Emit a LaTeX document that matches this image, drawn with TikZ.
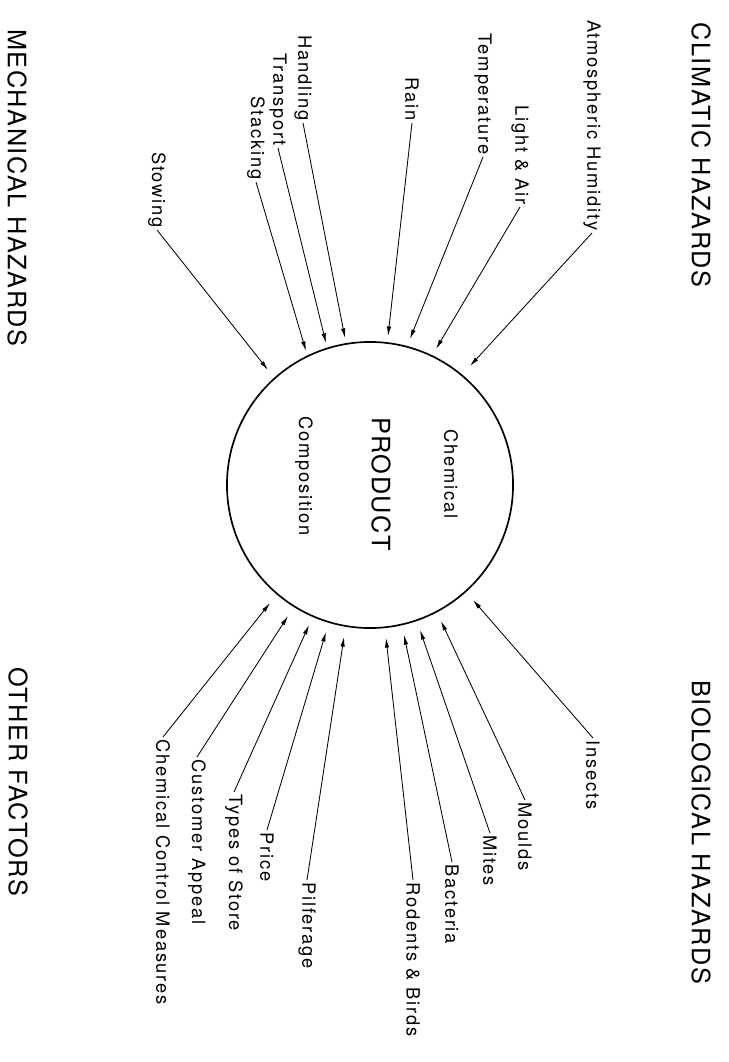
\documentclass[tikz,border=0pt]{standalone}
\usepackage{fontspec}
\usetikzlibrary{arrows.meta}
\newfontfamily\hdfont[LetterSpace=6]{TeX Gyre Heros}
\newfontfamily\lbfont[LetterSpace=10]{TeX Gyre Heros}
\begin{document}
\begin{tikzpicture}[x=0.025cm,y=-0.025cm,
  hd/.style={rotate=-90, inner sep=1pt, font=\hdfont\fontsize{18}{21}\selectfont},
  lbl/.style={rotate=-90, inner sep=1.5pt, font=\lbfont\fontsize{13}{15}\selectfont},
  arr/.style={-{Latex[length=2.4mm,width=1.1mm]}, line width=0.6pt}]
\useasboundingbox (0,0) rectangle (728,1062);

% central product circle
\node[draw, circle, line width=1.2pt, minimum size=7.15cm, inner sep=0pt] (prod) at (370,485) {};
\node[hd]  (ptxt) at (381,484) {PRODUCT};
\node[lbl] (chem) at (451,474) {Chemical};
\node[lbl] (comp) at (304,476) {Composition};

% group headings
\node[hd] (hclim) at (701,155) {CLIMATIC HAZARDS};
\node[hd] (hbio)  at (701,832) {BIOLOGICAL HAZARDS};
\node[hd] (hmech) at (17,188)  {MECHANICAL HAZARDS};
\node[hd] (hoth)  at (18,782)  {OTHER FACTORS};

% arrow tips just outside the circle
\coordinate (t-atm)  at (470,366);
\coordinate (t-lig)  at (436,349);
\coordinate (t-tem)  at (410,339);
\coordinate (t-rai)  at (388,336);
\coordinate (t-han)  at (345,338);
\coordinate (t-tra)  at (326,343);
\coordinate (t-sta)  at (306,351);
\coordinate (t-sto)  at (268,370);
\coordinate (t-cc)   at (270,603);
\coordinate (t-cus)  at (288,616);
\coordinate (t-typ)  at (309,625);
\coordinate (t-pri)  at (326,632);
\coordinate (t-pil)  at (344,637);
\coordinate (t-rod)  at (386,638);
\coordinate (t-bac)  at (404,635);
\coordinate (t-mit)  at (420,630);
\coordinate (t-mou)  at (441,621);
\coordinate (t-ins)  at (473,600);

% climatic hazards
\node[lbl, anchor=east] (atm) at (592,233) {Atmospheric Humidity};
\node[lbl, anchor=east] (lig) at (520,207) {Light \& Air};
\node[lbl, anchor=east] (tem) at (483,157) {Temperature};
\node[lbl, anchor=east] (rai) at (412,123) {Rain};

% mechanical hazards
\node[lbl, anchor=east] (han) at (303,123) {Handling};
\node[lbl, anchor=east] (tra) at (278,148) {Transport};
\node[lbl, anchor=east] (sta) at (256,182) {Stacking};
\node[lbl, anchor=east] (sto) at (157,230) {Stowing};

% other factors
\node[lbl, anchor=west] (cc)  at (163,737) {Chemical Control Measures};
\node[lbl, anchor=west] (cus) at (197,757) {Customer Appeal};
\node[lbl, anchor=west] (typ) at (234,792) {Types of Store};
\node[lbl, anchor=west] (pri) at (267,830) {Price};
\node[lbl, anchor=west] (pil) at (307,880) {Pilferage};

% biological hazards
\node[lbl, anchor=west] (rod) at (413,880) {Rodents \& Birds};
\node[lbl, anchor=west] (bac) at (452,862) {Bacteria};
\node[lbl, anchor=west] (mit) at (490,833) {Mites};
\node[lbl, anchor=west] (mou) at (525,800) {Moulds};
\node[lbl, anchor=west] (ins) at (593,738) {Insects};

% connectors
\foreach \n in {atm,lig,tem,rai,han,tra,sta,sto}
  \draw[arr] (\n.east) -- (t-\n);
\foreach \n in {cc,cus,typ,pri,pil,rod,bac,mit,mou,ins}
  \draw[arr] (\n.west) -- (t-\n);
\end{tikzpicture}
\end{document}
